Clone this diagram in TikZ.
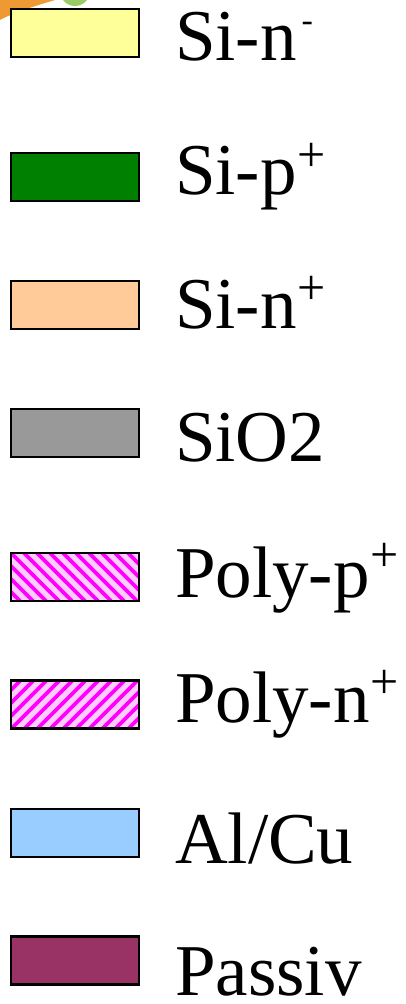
\documentclass[tikz,border=0pt]{standalone}
\usepackage{fontspec}
\setmainfont{Liberation Serif}

\definecolor{sinminus}{HTML}{FFFF99}
\definecolor{sipplus}{HTML}{008000}
\definecolor{sinplus}{HTML}{FFCC99}
\definecolor{oxide}{HTML}{999999}
\definecolor{polyfg}{HTML}{FF00FF}
\definecolor{polybg}{HTML}{FFCCFF}
\definecolor{metal}{HTML}{99CCFF}
\definecolor{passiv}{HTML}{993366}
\definecolor{swoosh}{HTML}{EE9933}
\definecolor{leafgreen}{HTML}{99CC66}

\begin{document}
\begin{tikzpicture}[x=1pt,y=-1pt,
  swatch/.style={draw=black, line width=2.2pt, minimum width=128pt,
                 minimum height=48pt, inner sep=0pt, outer sep=0pt},
  legendtext/.style={anchor=base west, inner sep=0pt, outer sep=0pt,
                     text depth=0pt, font=\fontsize{73}{80}\selectfont},
  supsign/.style={anchor=base west, inner sep=0pt, outer sep=0pt,
                  text depth=0pt, font=\fontsize{50}{50}\selectfont},
  subsign/.style={anchor=base west, inner sep=0pt, outer sep=0pt,
                  text depth=0pt, font=\fontsize{34}{34}\selectfont}]
\useasboundingbox (0,0) rectangle (406,1004);

% fragments of the drawing above the legend
\fill[swoosh] (0,0) -- (55,0) .. controls (35,6) and (15,12) .. (0,20) -- cycle;
\fill[leafgreen] (75,-9) circle[radius=15];

% swatches
\node[swatch, fill=sinminus] (b1) at (75,33)  {};
\node[swatch, fill=sipplus]  (b2) at (75,177) {};
\node[swatch, fill=sinplus]  (b3) at (75,305) {};
\node[swatch, fill=oxide]    (b4) at (75,433) {};
\node[swatch, fill=polybg]   (b5) at (75,577) {};
\node[swatch, fill=polybg]   (b6) at (75,704.5) {};
\node[swatch, fill=metal]    (b7) at (75,833) {};
\node[swatch, fill=passiv]   (b8) at (75,960.5) {};

% hatching of the polysilicon swatches
\begin{scope}
  \clip (b5.south west) rectangle (b5.north east);
  \foreach \k in {-6,...,12}
    \draw[polyfg, line width=3.6pt] ({11+13*\k},553) -- ({11+13*\k+48},601);
\end{scope}
\begin{scope}
  \clip (b6.south west) rectangle (b6.north east);
  \foreach \k in {-6,...,12}
    \draw[polyfg, line width=3.6pt] ({11+13*\k},729) -- ({11+13*\k+48},681);
\end{scope}
\node[swatch] (b5o) at (b5) {};
\node[swatch] (b6o) at (b6) {};

% labels
\node[legendtext] (t1) at (175,60)  {Si-n};
\node[legendtext] (t2) at (175,194) {Si-p};
\node[legendtext] (t3) at (175,328) {Si-n};
\node[legendtext] (t4) at (175,461) {SiO2};
\node[legendtext] (t5) at (175,597) {Poly-p};
\node[legendtext] (t6) at (175,722) {Poly-n};
\node[legendtext] (t7) at (175,863) {Al/Cu};
\node[legendtext] (t8) at (175,995) {Passiv};

% charge signs set as superscripts
\node[subsign] (s1) at ([xshift=5pt, yshift=29pt]t1.base east) {-};
\node[supsign] (s2) at ([xshift=1pt, yshift=23pt]t2.base east) {+};
\node[supsign] (s3) at ([xshift=1pt, yshift=24pt]t3.base east) {+};
\node[supsign] (s5) at ([xshift=1pt, yshift=26pt]t5.base east) {+};
\node[supsign] (s6) at ([xshift=1pt, yshift=24pt]t6.base east) {+};
\end{tikzpicture}
\end{document}
